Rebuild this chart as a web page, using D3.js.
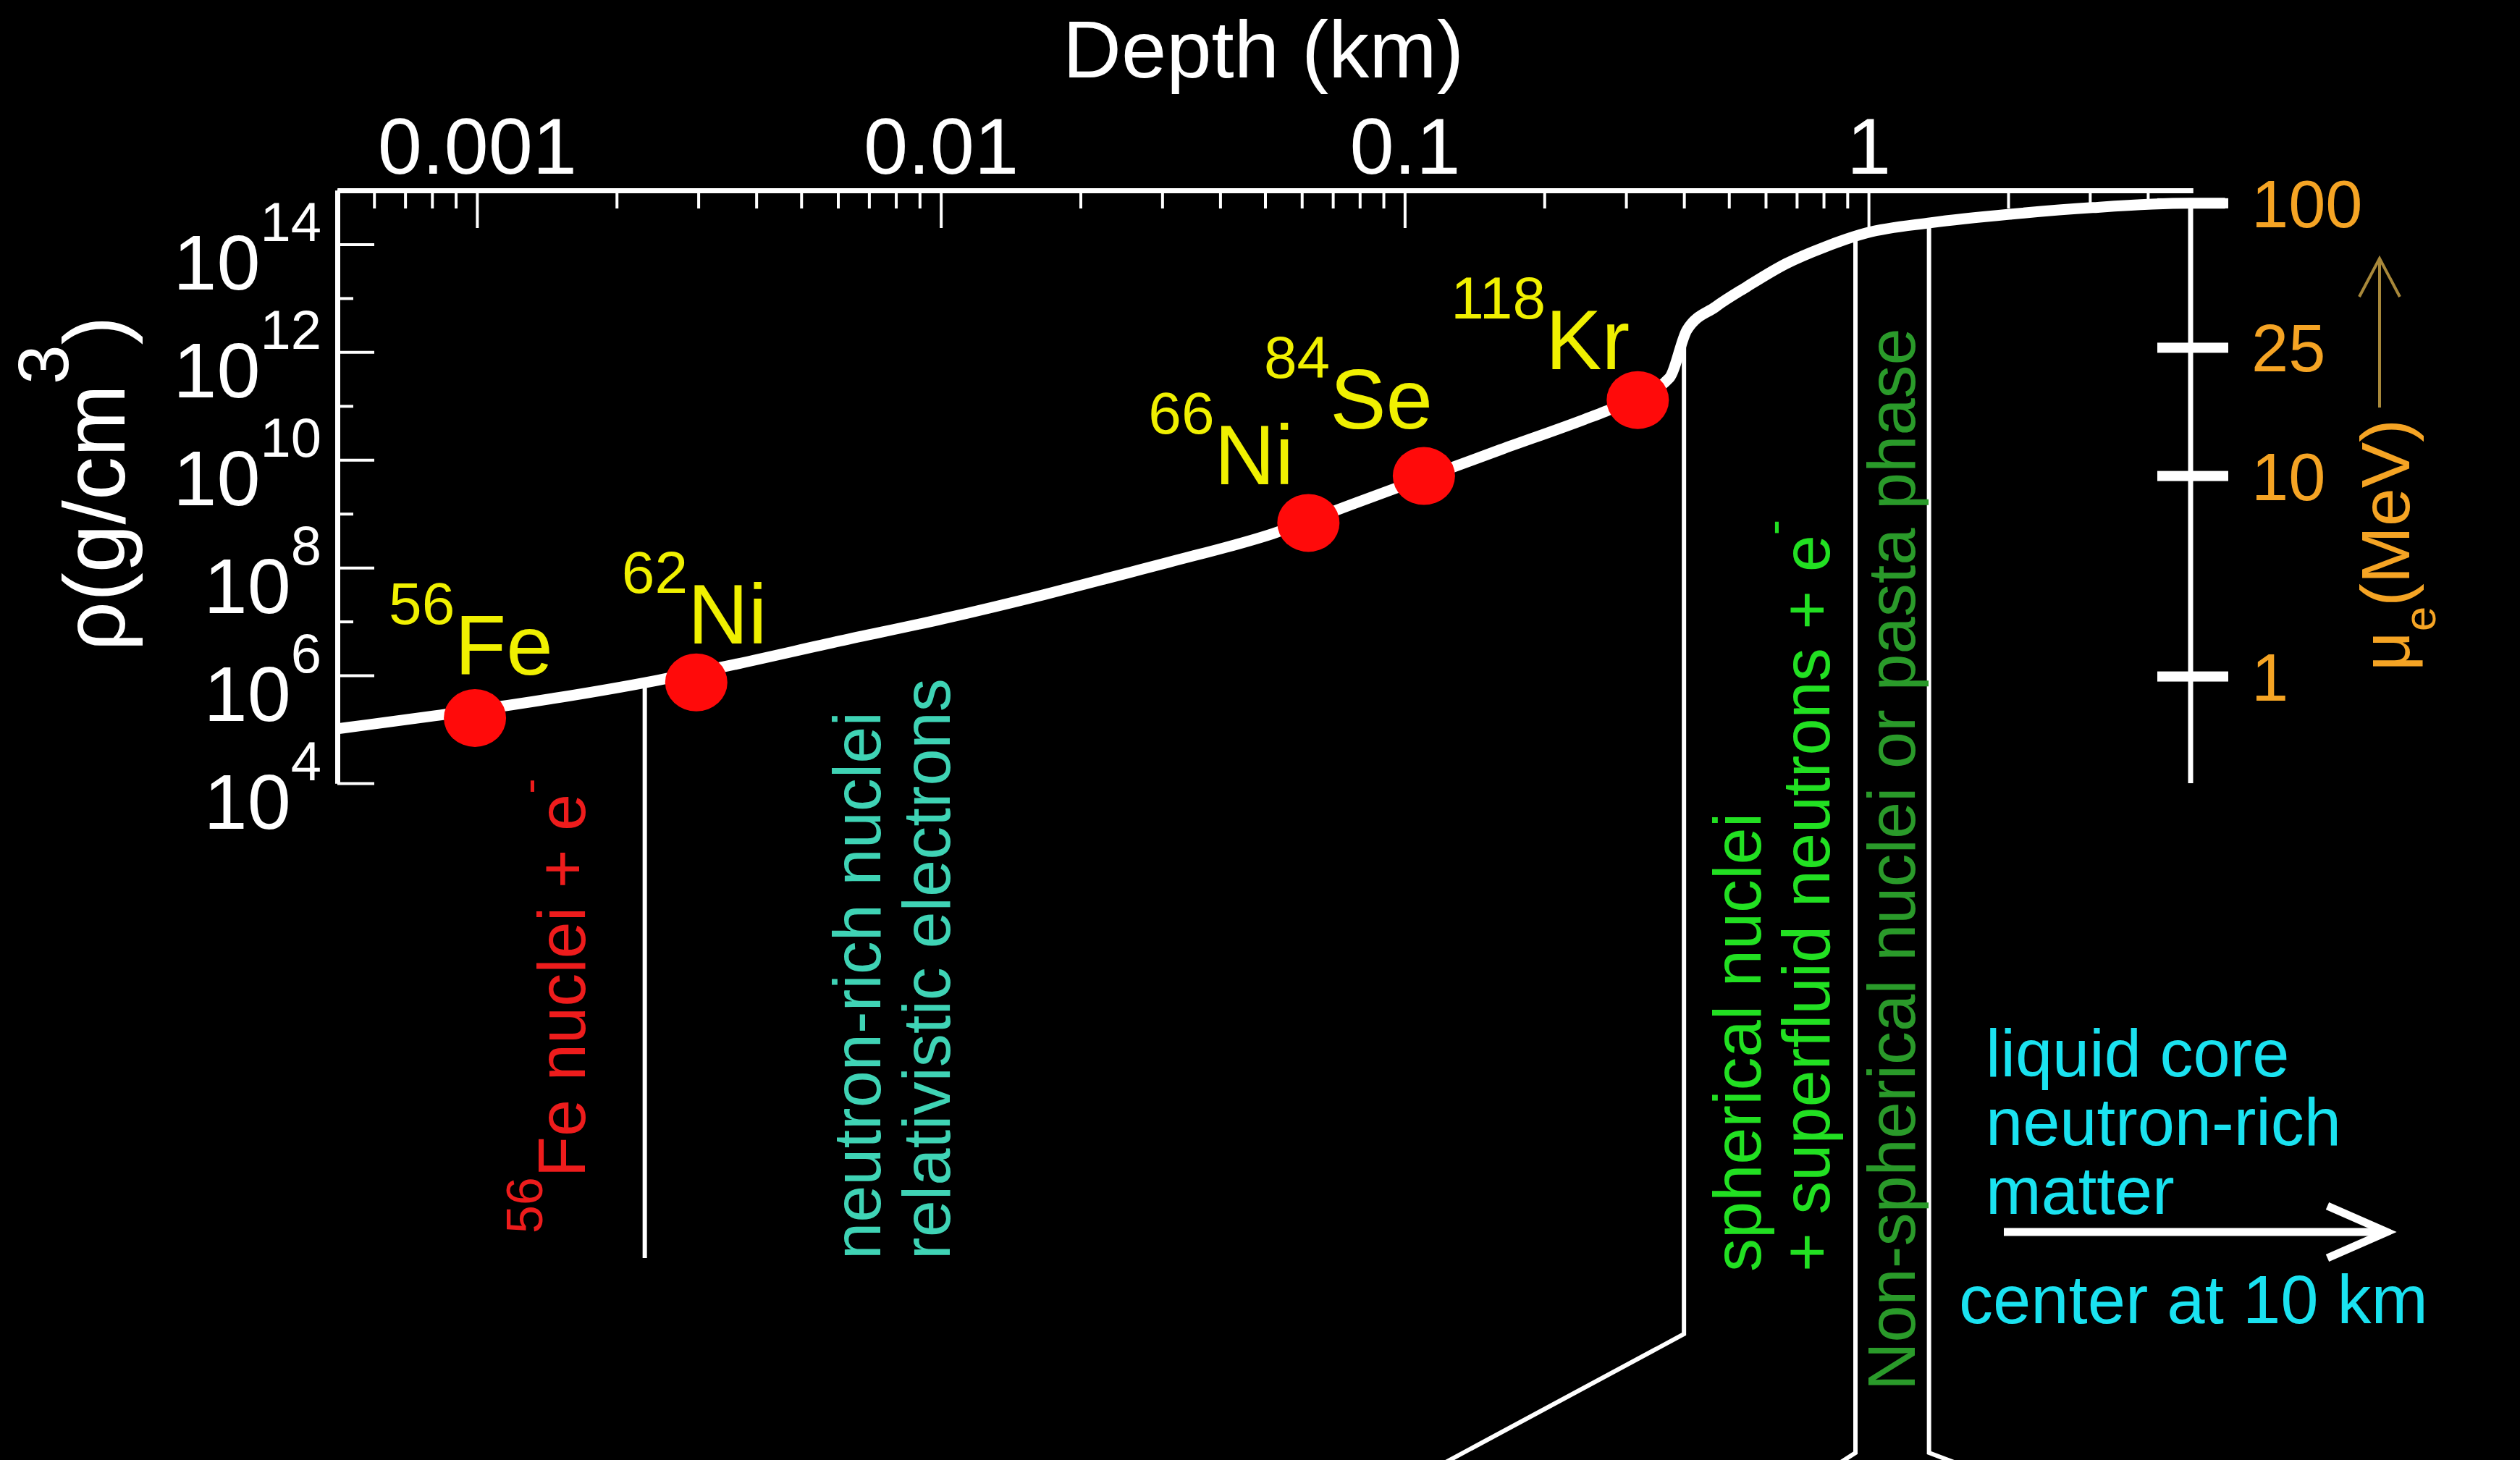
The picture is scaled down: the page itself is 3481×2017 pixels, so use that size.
<!DOCTYPE html>
<html>
<head>
<meta charset="utf-8">
<script src="https://cdn.jsdelivr.net/npm/d3@7"></script>
<style>
  body { margin: 0; background: #000; }
  svg { display: block; }
  text { font-family: "Liberation Sans", Arial, Helvetica, sans-serif; }
</style>
</head>
<body>
<div id="chart"></div>
<script>
// density profile of the crust
const depthKm = [0.0005, 0.00081, 0.00118, 0.00245, 0.00349, 0.00607, 0.0101, 0.0167, 0.0255, 0.0310,
                 0.0519, 0.0785, 0.161, 0.244, 0.271, 0.372, 0.406, 0.468, 0.546, 0.664,
                 0.805, 0.99, 1.365, 2.035, 3.04, 4.92, 5.87];
const logRho = [5.01, 5.25, 5.45, 5.91, 6.18, 6.64, 7.05, 7.50, 7.91, 8.10,
                8.63, 9.20, 10.19, 10.75, 10.90, 11.52, 12.41, 12.84, 13.21, 13.64,
                13.95, 14.21, 14.40, 14.56, 14.68, 14.76, 14.76];

// nuclei marked on the curve
const isoMass = ["56", "62", "66", "84", "118"];
const isoName = ["Fe", "Ni", "Ni", "Se", "Kr"];
const isoDepth = [0.00099, 0.00297, 0.062, 0.110, 0.318];
const isoLogRho = [5.21, 5.87, 8.83, 9.70, 11.11];

// axes
const xTickValues = [0.001, 0.01, 0.1, 1];
const xTickLabels = ["0.001", "0.01", "0.1", "1"];
const yTickExp = [4, 6, 8, 10, 12, 14];
const muTickLabels = ["1", "10", "25", "100"];
const muTickLogRho = [5.98, 9.70, 12.08, 14.76];

// phase boundaries (depth in km)
const boundaryDepth = [0.0023, 0.40, 0.937, 1.35];

const W = 3481, H = 2017;
const svg = d3.select("#chart").append("svg")
    .attr("width", W)
    .attr("height", H);
svg.append("rect").attr("width", W).attr("height", H).attr("fill", "#000");

const x = d3.scaleLog().domain([0.0005, 5]).range([466, 3029]);
const y = d3.scaleLog().domain([1e4, 1e15]).range([1082, 263]);
const topY = 263, leftX = 466;

// curve density at a given depth (linear in log-log between read points)
function rhoAt(d) {
    const ld = Math.log10(d);
    for (let i = 0; i < depthKm.length - 1; i++) {
        const a = Math.log10(depthKm[i]), b = Math.log10(depthKm[i + 1]);
        if (ld >= a && ld <= b) {
            const t = (ld - a) / (b - a);
            return Math.pow(10, logRho[i] + t * (logRho[i + 1] - logRho[i]));
        }
    }
    return Math.pow(10, logRho[logRho.length - 1]);
}

// ---- top (depth) axis, ticks pointing in
const isPow10 = v => Math.abs(Math.log10(v) - Math.round(Math.log10(v))) < 1e-9;
const xMinor = x.ticks().filter(v => !isPow10(v) && v > 0.00051 && v < 4.99);

const xMinorAxis = svg.append("g")
    .attr("transform", `translate(0,${topY})`)
    .call(d3.axisTop(x).tickValues(xMinor).tickSize(-25).tickSizeOuter(0).tickFormat(""));
const xMajorAxis = svg.append("g")
    .attr("transform", `translate(0,${topY})`)
    .call(d3.axisTop(x).tickValues(xTickValues).tickSize(-52).tickSizeOuter(0).tickPadding(23)
        .tickFormat((d, i) => xTickLabels[i]));

// ---- left (density) axis
const yMinor = y.ticks().filter(v => {
    const e = Math.floor(Math.log10(v) + 1e-9);
    const m = Math.round(v / Math.pow(10, e));
    return (e % 2 === 0 && m > 1) || (e % 2 === 1 && m === 1);
});
const yMinorAxis = svg.append("g")
    .attr("transform", `translate(${leftX},0)`)
    .call(d3.axisLeft(y).tickValues(yMinor).tickSize(-22).tickSizeOuter(0).tickFormat(""));
const yMajorAxis = svg.append("g")
    .attr("transform", `translate(${leftX},0)`)
    .call(d3.axisLeft(y).tickValues(yTickExp.map(e => Math.pow(10, e))).tickSize(-51).tickSizeOuter(0).tickFormat(""));

[xMinorAxis, xMajorAxis, yMinorAxis, yMajorAxis].forEach(g => {
    g.select(".domain").attr("stroke", "#fff").attr("stroke-width", 7);
    g.selectAll(".tick line").attr("stroke", "#fff").attr("stroke-width", 4);
});
xMajorAxis.selectAll(".tick text")
    .attr("fill", "#fff")
    .style("font-size", "110px");

// y tick labels 10^n
yTickExp.forEach(e => {
    const t = svg.append("text")
        .attr("x", 444)
        .attr("y", y(Math.pow(10, e)) + 63)
        .attr("text-anchor", "end")
        .attr("fill", "#fff")
        .style("font-size", "108px")
        .text("10");
    t.append("tspan").attr("dy", -67).style("font-size", "76px").text(e);
});

// axis titles
svg.append("text")
    .attr("x", 1745).attr("y", 107)
    .attr("text-anchor", "middle")
    .attr("fill", "#fff")
    .style("font-size", "112px")
    .text("Depth (km)");

const yTitle = svg.append("text")
    .attr("transform", "translate(172,668) rotate(-90)")
    .attr("text-anchor", "middle")
    .attr("fill", "#fff")
    .style("font-size", "120px")
    .text("ρ(g/cm");
yTitle.append("tspan").attr("dy", -78).style("font-size", "98px").text("3");
yTitle.append("tspan").attr("dy", 78).text(")");

// ---- electron chemical potential axis
const muX = 3026;
svg.append("line")
    .attr("x1", muX).attr("x2", muX)
    .attr("y1", y(1e4)).attr("y2", y(Math.pow(10, muTickLogRho[3])))
    .attr("stroke", "#fff").attr("stroke-width", 7);

svg.selectAll("rect.mutick")
    .data(muTickLogRho)
    .enter().append("rect")
    .attr("class", "mutick")
    .attr("x", muX - 46)
    .attr("width", 98)
    .attr("y", d => y(Math.pow(10, d)) - 7)
    .attr("height", 14)
    .attr("fill", "#fff");

svg.selectAll("text.mulabel")
    .data(muTickLogRho)
    .enter().append("text")
    .attr("class", "mulabel")
    .attr("x", 3110)
    .attr("y", d => y(Math.pow(10, d)) + 33)
    .attr("fill", "#f5a424")
    .style("font-size", "92px")
    .text((d, i) => muTickLabels[i]);

const muTitle = svg.append("text")
    .attr("transform", "translate(3328,927) rotate(-90)")
    .attr("fill", "#f5a424")
    .style("font-size", "95px")
    .text("μ");
muTitle.append("tspan").attr("dy", 36).style("font-size", "62px").text("e");
muTitle.append("tspan").attr("dy", -36).text("(MeV)");

const gold = "#a8883a";
svg.append("line")
    .attr("x1", 3287).attr("x2", 3287).attr("y1", 563).attr("y2", 358)
    .attr("stroke", gold).attr("stroke-width", 4);
svg.append("polyline")
    .attr("points", "3259,410 3287,357 3315,410")
    .attr("fill", "none").attr("stroke", gold).attr("stroke-width", 4);

// ---- phase boundary lines
const bottoms = [1738, 1843, 2007, 2007];
const tails = [null, [1960, 2040], [2512, 2040], [2752, 2040]];
boundaryDepth.forEach((d, i) => {
    const bx = x(d);
    let p = `M${bx},${y(rhoAt(d))}L${bx},${bottoms[i]}`;
    if (tails[i]) p += `L${tails[i][0]},${tails[i][1]}`;
    svg.append("path")
        .attr("d", p)
        .attr("fill", "none")
        .attr("stroke", "#fff")
        .attr("stroke-width", 6);
});

// ---- density curve
const line = d3.line()
    .x((d, i) => x(depthKm[i]))
    .y((d, i) => y(Math.pow(10, logRho[i])))
    .curve(d3.curveMonotoneX);
svg.append("path")
    .datum(depthKm)
    .attr("d", line)
    .attr("fill", "none")
    .attr("stroke", "#fff")
    .attr("stroke-width", 15)
    .attr("stroke-linejoin", "round");

// ---- nuclei
const isoLabelOffset = [[-119, -60], [-103, -54], [-221, -53], [-221, -66], [-258, -43]];
svg.selectAll("ellipse.iso")
    .data(isoDepth)
    .enter().append("ellipse")
    .attr("class", "iso")
    .attr("cx", d => x(d))
    .attr("cy", (d, i) => y(Math.pow(10, isoLogRho[i])))
    .attr("rx", 43).attr("ry", 40)
    .attr("fill", "#ff0a0a");

isoDepth.forEach((d, i) => {
    const t = svg.append("text")
        .attr("x", x(d) + isoLabelOffset[i][0])
        .attr("y", y(Math.pow(10, isoLogRho[i])) + isoLabelOffset[i][1])
        .attr("fill", "#f0f000");
    t.append("tspan").attr("dy", -70).style("font-size", "82px").text(isoMass[i]);
    t.append("tspan").attr("dy", 70).style("font-size", "116px").text(isoName[i]);
});

// ---- region annotations (rotated)
function vlabel(xb, yb, color, parts) {
    const t = svg.append("text")
        .attr("transform", `translate(${xb},${yb}) rotate(-90)`)
        .attr("fill", color)
        .style("font-size", "92px");
    parts.forEach(p => {
        const s = t.append("tspan").text(p.t);
        if (p.dy) s.attr("dy", p.dy);
        if (p.fs) s.style("font-size", p.fs + "px");
    });
}
vlabel(808, 1704, "#ee1c1c", [{ t: "56", dy: -59, fs: 70 }, { t: "Fe nuclei + e", dy: 59 }, { t: "-", dy: -55, fs: 64 }]);
vlabel(1216, 1740, "#3fd3b5", [{ t: "neutron-rich nuclei" }]);
vlabel(1312, 1740, "#3fd3b5", [{ t: "relativistic electrons" }]);
vlabel(2432, 1757, "#22e022", [{ t: "spherical nuclei" }]);
vlabel(2527, 1757, "#22e022", [{ t: "+ superfluid neutrons + e" }, { t: "-", dy: -55, fs: 64 }]);
vlabel(2645, 1921, "#2a9a2a", [{ t: "Non-spherical nuclei or pasta phase" }]);

// ---- core note
const cyan = "#1ae2f0";
["liquid core", "neutron-rich", "matter"].forEach((s, i) => {
    svg.append("text")
        .attr("x", 2743).attr("y", 1487 + i * 95)
        .attr("fill", cyan)
        .style("font-size", "92px")
        .text(s);
});
svg.append("text")
    .attr("x", 2706).attr("y", 1828)
    .attr("fill", cyan)
    .style("font-size", "94px")
    .text("center at 10 km");
svg.append("line")
    .attr("x1", 2768).attr("x2", 3290).attr("y1", 1702).attr("y2", 1702)
    .attr("stroke", "#fff").attr("stroke-width", 11);
svg.append("polyline")
    .attr("points", "3215,1666 3297,1702 3215,1738")
    .attr("fill", "none").attr("stroke", "#fff").attr("stroke-width", 11);
</script>
</body>
</html>
